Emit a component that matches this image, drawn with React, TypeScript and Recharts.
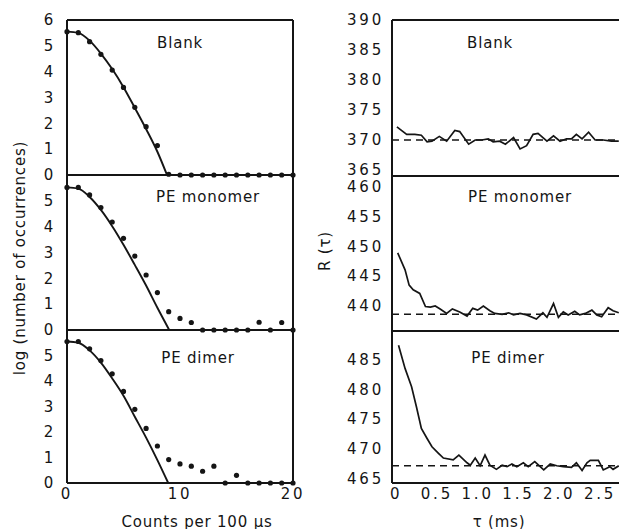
import React from 'react';
import { ComposedChart, Line, XAxis, YAxis, ReferenceLine } from 'recharts';

const FONT = '"DejaVu Sans", sans-serif';
const INK = '#151515';

// left column: log (number of occurrences) vs counts per 100 us
const counts = [0, 1, 2, 3, 4, 5, 6, 7, 8, 9, 10, 11, 12, 13, 14, 15, 16, 17, 18, 19, 20];
const blankDots = [5.55, 5.51, 5.16, 4.67, 4.06, 3.39, 2.62, 1.87, 1.14, 0.03, 0, 0, 0, 0, 0, 0, 0, 0, 0, 0, 0];
const monomerDots = [5.52, 5.52, 5.23, 4.74, 4.18, 3.55, 2.86, 2.13, 1.45, 0.71, 0.45, 0.29, 0, 0, 0, 0, 0, 0.3, 0, 0.29, 0];
const dimerDots = [5.55, 5.55, 5.26, 4.8, 4.28, 3.59, 2.89, 2.14, 1.45, 0.92, 0.75, 0.66, 0.46, 0.66, 0, 0.3, 0, 0, 0, 0, 0];

const blankFitX = [0, 1, 2, 3, 4, 5, 6, 7, 8, 8.85];
const blankFit = [5.55, 5.5, 5.2, 4.7, 4.1, 3.4, 2.6, 1.78, 0.9, 0];
const monomerFitX = [0, 1, 2, 3, 4, 5, 6, 7, 8, 9.05];
const monomerFit = [5.52, 5.47, 5.15, 4.65, 4.02, 3.3, 2.52, 1.72, 0.86, 0];
const dimerFitX = [0, 1, 2, 3, 4, 5, 6, 7, 8, 8.96];
const dimerFit = [5.55, 5.5, 5.2, 4.72, 4.1, 3.42, 2.6, 1.78, 0.9, 0];

const countTicks = [0, 2, 4, 6, 8, 10, 12, 14, 16, 18, 20];
const logTicksTop = [0, 1, 2, 3, 4, 5, 6];
const logTicks = [0, 1, 2, 3, 4, 5];

// right column: R(tau) vs tau (ms)
const blankTau = [0.01, 0.13, 0.23, 0.31, 0.38, 0.44, 0.53, 0.62, 0.72, 0.78, 0.89, 0.97, 1.05, 1.13, 1.19, 1.27, 1.34, 1.44, 1.52, 1.6, 1.68, 1.74, 1.85, 1.93, 2.01, 2.09, 2.15, 2.21, 2.28, 2.36, 2.44, 2.54, 2.64, 2.73];
const blankR = [372.2, 370.95, 370.95, 370.8, 369.7, 369.8, 370.6, 369.8, 371.6, 371.4, 369.3, 370.0, 370.0, 370.2, 369.7, 369.8, 369.3, 370.4, 368.5, 369.05, 370.95, 371.1, 369.8, 370.7, 369.8, 370.2, 370.2, 370.95, 370.2, 371.3, 370.0, 370.0, 369.8, 369.8];
const monomerTau = [0.02, 0.11, 0.16, 0.21, 0.29, 0.36, 0.42, 0.48, 0.54, 0.62, 0.69, 0.78, 0.87, 0.94, 1.0, 1.07, 1.15, 1.21, 1.3, 1.38, 1.44, 1.52, 1.6, 1.72, 1.8, 1.85, 1.93, 1.99, 2.05, 2.11, 2.19, 2.25, 2.32, 2.4, 2.46, 2.52, 2.6, 2.66, 2.73];
const monomerR = [448.9, 446.05, 443.5, 442.7, 442.1, 439.9, 439.8, 440.0, 439.5, 438.75, 439.5, 439.0, 438.3, 439.6, 439.3, 440.0, 439.2, 438.75, 438.6, 438.85, 438.5, 438.75, 438.5, 437.8, 438.85, 438.1, 440.4, 438.1, 439.0, 438.5, 439.1, 438.5, 438.75, 439.3, 438.5, 438.2, 439.7, 439.2, 438.85];
const dimerTau = [0.03, 0.11, 0.19, 0.25, 0.31, 0.38, 0.44, 0.52, 0.58, 0.7, 0.77, 0.87, 0.91, 0.97, 1.03, 1.09, 1.15, 1.23, 1.3, 1.36, 1.42, 1.48, 1.56, 1.62, 1.7, 1.81, 1.89, 1.97, 2.05, 2.15, 2.21, 2.28, 2.34, 2.38, 2.48, 2.54, 2.62, 2.66, 2.73];
const dimerR = [487.4, 483.5, 480.4, 477.0, 473.4, 471.7, 470.3, 469.2, 468.4, 468.1, 468.9, 467.6, 467.2, 468.4, 467.1, 468.9, 467.2, 466.5, 467.2, 466.95, 467.4, 466.95, 467.6, 466.95, 467.8, 466.4, 467.4, 467.1, 466.95, 466.85, 467.6, 466.3, 467.6, 468.0, 468.0, 466.4, 466.95, 466.5, 467.1];
const blankBase = 370;
const monomerBase = 438.6;
const dimerBase = 467.1;

const tauTicks = [0, 0.5, 1.0, 1.5, 2.0, 2.5];
const blankTicks = [365, 370, 375, 380, 385, 390];
const monomerTicks = [440, 445, 450, 455, 460];
const dimerTicks = [465, 470, 475, 480, 485];

const toPoints = (xs: number[], ys: number[]) => xs.map((x, i) => ({ x, y: ys[i] }));

const tickStyle = { fontSize: 15, fontFamily: FONT, fill: INK, letterSpacing: 2.8 };
const AXW = 70;

type PanelProps = {
  left: number;
  top: number;
  width: number;
  height: number;
  xDomain: [number, number];
  yDomain: [number, number];
  xTicks: number[];
  yTicks: number[];
  topTicks?: boolean;
  bottomTicks?: boolean;
  xFormat?: (v: number) => string;
  yGap: number;
  children: React.ReactNode;
};

function Panel(p: PanelProps) {
  const axisLook = { stroke: INK, strokeWidth: 2 };
  return (
    <div style={{ position: 'absolute', left: p.left - AXW, top: p.top - 20 }}>
      <ComposedChart
        width={AXW + p.width + 10}
        height={p.height + 40}
        margin={{ top: 20, right: 10, bottom: 19, left: 0 }}
      >
        {/* bottom frame + outside labels */}
        <XAxis
          xAxisId={0}
          dataKey="x"
          type="number"
          domain={p.xDomain}
          ticks={p.xTicks}
          interval={0}
          height={1}
          {...axisLook}
          tickLine={false}
          tickSize={0}
          tickMargin={5}
          tick={p.xFormat ? tickStyle : false}
          tickFormatter={p.xFormat}
        />
        {/* inward ticks, bottom */}
        <XAxis
          xAxisId="bt"
          mirror
          dataKey="x"
          type="number"
          domain={p.xDomain}
          ticks={p.xTicks}
          interval={0}
          {...axisLook}
          axisLine={false}
          tickLine={!!p.bottomTicks}
          tickSize={6}
          tick={false}
        />
        {/* top frame + inward ticks */}
        <XAxis
          xAxisId="top"
          orientation="top"
          mirror
          dataKey="x"
          type="number"
          domain={p.xDomain}
          ticks={p.xTicks}
          interval={0}
          {...axisLook}
          tickLine={!!p.topTicks}
          tickSize={6}
          tick={false}
        />
        {/* left frame + labels */}
        <YAxis
          yAxisId={0}
          type="number"
          domain={p.yDomain}
          ticks={p.yTicks}
          interval={0}
          width={AXW}
          {...axisLook}
          tickLine={false}
          tickMargin={p.yGap}
          tick={tickStyle}
        />
        {/* inward ticks, left */}
        <YAxis
          yAxisId="lt"
          mirror
          type="number"
          domain={p.yDomain}
          ticks={p.yTicks}
          interval={0}
          {...axisLook}
          axisLine={false}
          tickSize={6}
          tick={false}
        />
        {/* right frame + inward ticks */}
        <YAxis
          yAxisId="right"
          orientation="right"
          mirror
          type="number"
          domain={p.yDomain}
          ticks={p.yTicks}
          interval={0}
          {...axisLook}
          tickSize={6}
          tick={false}
        />
        {p.children}
      </ComposedChart>
    </div>
  );
}

const fitLine = (xs: number[], ys: number[]) => (
  <Line
    data={toPoints(xs, ys)}
    dataKey="y"
    type="monotone"
    stroke={INK}
    strokeWidth={1.9}
    dot={false}
    activeDot={false}
    isAnimationActive={false}
  />
);

const dotSeries = (ys: number[]) => (
  <Line
    data={toPoints(counts, ys)}
    dataKey="y"
    stroke="none"
    dot={{ r: 2.6, fill: INK, stroke: 'none' }}
    activeDot={false}
    isAnimationActive={false}
  />
);

const rLine = (xs: number[], ys: number[], base: number) => [
  <ReferenceLine key="b" y={base} stroke={INK} strokeWidth={1.5} strokeDasharray="7 5" />,
  <Line
    key="l"
    data={toPoints(xs, ys)}
    dataKey="y"
    type="linear"
    stroke={INK}
    strokeWidth={1.7}
    dot={false}
    activeDot={false}
    isAnimationActive={false}
  />,
];

const label = (text: string, cx: number, cy: number, size = 15, rotate = 0, spacing = 0.8) => (
  <div
    style={{
      position: 'absolute',
      left: cx,
      top: cy,
      transform: `translate(-50%, -50%) rotate(${rotate}deg)`,
      whiteSpace: 'nowrap',
      fontFamily: FONT,
      fontSize: size,
      letterSpacing: spacing,
      color: INK,
      lineHeight: 1,
    }}
  >
    {text}
  </div>
);

const LX = 67;
const LW = 226;
const RX = 392;
const RW = 228;
const fmtCount = (v: number) => (v % 10 === 0 ? String(v) : '');
const fmtTau = (v: number) => (v === 0 ? '0' : v.toFixed(1));

export default function App() {
  return (
    <div
      style={{
        position: 'absolute',
        left: 0,
        top: 0,
        width: 619,
        height: 529,
        background: '#fff',
        overflow: 'hidden',
      }}
    >
      <style>{'.recharts-surface{overflow:visible}'}</style>

      <Panel left={LX} top={20} width={LW} height={155} xDomain={[0, 20]} yDomain={[0, 6]}
        xTicks={countTicks} yTicks={logTicksTop} topTicks yGap={5}>
        {fitLine(blankFitX, blankFit)}
        {dotSeries(blankDots)}
      </Panel>
      <Panel left={LX} top={175} width={LW} height={155} xDomain={[0, 20]} yDomain={[0, 6]}
        xTicks={countTicks} yTicks={logTicks} yGap={5}>
        {fitLine(monomerFitX, monomerFit)}
        {dotSeries(monomerDots)}
      </Panel>
      <Panel left={LX} top={330} width={LW} height={153} xDomain={[0, 20]} yDomain={[0, 6]}
        xTicks={countTicks} yTicks={logTicks} bottomTicks xFormat={fmtCount} yGap={5}>
        {fitLine(dimerFitX, dimerFit)}
        {dotSeries(dimerDots)}
      </Panel>

      <Panel left={RX} top={20} width={RW} height={156} xDomain={[-0.05, 2.745]} yDomain={[364, 390]}
        xTicks={tauTicks} yTicks={blankTicks} topTicks yGap={2}>
        {rLine(blankTau, blankR, blankBase)}
      </Panel>
      <Panel left={RX} top={176} width={RW} height={155} xDomain={[-0.05, 2.745]} yDomain={[435.8, 461.8]}
        xTicks={tauTicks} yTicks={monomerTicks} yGap={2}>
        {rLine(monomerTau, monomerR, monomerBase)}
      </Panel>
      <Panel left={RX} top={331} width={RW} height={152} xDomain={[-0.05, 2.745]} yDomain={[464.2, 489.8]}
        xTicks={tauTicks} yTicks={dimerTicks} bottomTicks xFormat={fmtTau} yGap={2}>
        {rLine(dimerTau, dimerR, dimerBase)}
      </Panel>

      {label('Blank', 180, 43)}
      {label('PE monomer', 208, 197)}
      {label('PE dimer', 198, 358)}
      {label('Blank', 490, 43)}
      {label('PE monomer', 520, 197)}
      {label('PE dimer', 508, 358)}

      {label('log (number of occurrences)', 20, 258, 15, -90, 0.8)}
      {label('R (τ)', 325, 251, 15, -90, 0.8)}
      {label('Counts per 100 µs', 197, 522, 15, 0, 0.8)}
      {label('τ (ms)', 499, 522, 15, 0, 0.8)}
    </div>
  );
}
